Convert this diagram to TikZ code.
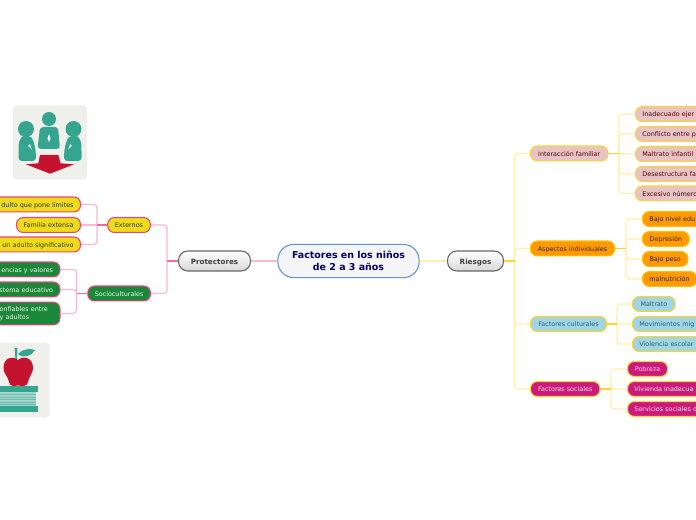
\documentclass[tikz,border=0pt]{standalone}
\usepackage{fontspec}
\setmainfont{DejaVu Sans}
\usepackage{xcolor}
\usetikzlibrary{calc, positioning}
\definecolor{pinkdark}{HTML}{E96F9C}
\definecolor{pinklight}{HTML}{F8B9D0}
\definecolor{pinkborder}{HTML}{E8457A}
\definecolor{golddark}{HTML}{FFD233}
\definecolor{goldlight}{HTML}{FFEFA8}
\definecolor{iconbg}{HTML}{EFEFEB}
\definecolor{iconteal}{HTML}{35A58F}
\definecolor{iconred}{HTML}{C5122F}
\definecolor{rosefill}{HTML}{E6C4C6}
\definecolor{yellowfill}{HTML}{EEDC18}
\definecolor{greenfill}{HTML}{1A873B}
\definecolor{bluefill}{HTML}{A2D5E4}
\definecolor{bluetext}{HTML}{2F5F70}
\definecolor{magentafill}{HTML}{CB1A7A}
\definecolor{orangefill}{HTML}{FF9A00}

\begin{document}
\begin{tikzpicture}[
    x=0.75pt, y=-0.75pt,
    pill/.style={rectangle, rounded corners=5pt, line width=0.8pt, minimum height=11.2pt, inner xsep=5.2pt, inner ysep=1pt, text height=4.6pt, text depth=0.5pt, font=\fontsize{4.8pt}{6.2pt}\selectfont},
    yellowbox/.style={pill, draw=pinkborder, fill=yellowfill, text=black!80},
    greenbox/.style={pill, draw=pinkborder, fill=greenfill, text=white!90!green},
    rosebox/.style={pill, draw=golddark, fill=rosefill, text=red!35!black},
    orangebox/.style={pill, draw=orange!50!yellow, fill=orangefill, text=black!75!orange},
    bluebox/.style={pill, draw=golddark, fill=bluefill, text=bluetext},
    magentabox/.style={pill, draw=golddark, fill=magentafill, text=white!90!magenta},
    mainbox/.style={rectangle, rounded corners=7pt, draw=black!60, thick, top color=white, bottom color=black!15, minimum width=54pt, minimum height=15pt, inner sep=1pt, text height=5.6pt, text depth=0.3pt, text=black!75, font=\fontsize{5.4pt}{6.5pt}\selectfont\bfseries},
    titlebox/.style={rectangle, rounded corners=12pt, draw=cyan!50!blue!65, thick, fill=red!5!black!4, minimum width=106pt, minimum height=25pt, align=center, inner sep=1pt, text=blue!40!black, font=\fontsize{7.1pt}{8.7pt}\selectfont\bfseries},
    pinkline/.style={draw=pinklight, line width=0.9pt, rounded corners=2.5pt},
    pinktrunk/.style={draw=pinkdark, line width=1.1pt},
    goldline/.style={draw=goldlight, line width=0.9pt, rounded corners=2.5pt},
    goldtrunk/.style={draw=golddark, line width=1.1pt}
]
    \useasboundingbox (0,0) rectangle (696,520);
    \clip (0,0) rectangle (696,520);

    % Center row
    \node (title) at (348.5,261) [titlebox] {Factores en los niños\\de 2 a 3 años};
    \node (protectores) at (214.5,261) [mainbox] {Protectores};
    \node (riesgos) at (475.5,261) [mainbox, minimum width=42pt] {Riesgos};

    % Left side, second level
    \node (externos) at (129,225) [yellowbox, minimum width=32pt] {Externos};
    \node (socio) at (151,293.5) [greenbox, anchor=east, minimum width=47pt] {Socioculturales};

    % Left side, leaves (they run off the page)
    \node (limites) at (81,204.5) [yellowbox, anchor=east, text width=62pt, align=right] {dulto que pone límites};
    \node (familia) at (81,225) [yellowbox, anchor=east, minimum width=48pt] {Familia extensa};
    \node (significativo) at (81,244.5) [yellowbox, anchor=east, text width=62pt, align=right] {un adulto significativo};
    \node (valores) at (60.5,269.5) [greenbox, anchor=east, text width=46pt, align=right] {encias y valores};
    \node (educativo) at (60.5,289.5) [greenbox, anchor=east, text width=46pt, align=right] {stema educativo};
    \node (confiables) at (60.5,313.5) [greenbox, anchor=east, minimum height=17pt, text height=, text depth=, text width=40pt, align=left] {onfiables entre\\y adultos};

    % Right side, second level
    \node (interaccion) at (530,153.5) [rosebox, anchor=west, minimum width=58pt] {Interacción familiar};
    \node (aspectos) at (530,248.5) [orangebox, anchor=west, minimum width=63pt] {Aspectos individuales};
    \node (culturales) at (530,324) [bluebox, anchor=west, minimum width=57pt] {Factores culturales};
    \node (sociales) at (530,389) [magentabox, anchor=west, minimum width=52pt] {Factores sociales};

    % Right side, leaves
    \node (inadecuado) at (635,114) [rosebox, anchor=west, text width=65pt, align=left] {Inadecuado ejer};
    \node (conflicto) at (635,134) [rosebox, anchor=west, text width=65pt, align=left] {Conflicto entre p};
    \node (maltratoinf) at (635,154) [rosebox, anchor=west, text width=65pt, align=left] {Maltrato infantil};
    \node (desestructura) at (635,174) [rosebox, anchor=west, text width=65pt, align=left] {Desestructura fa};
    \node (excesivo) at (635,193.5) [rosebox, anchor=west, text width=65pt, align=left] {Excesivo número};

    \node (nivel) at (642,219) [orangebox, anchor=west, text width=65pt, align=left] {Bajo nivel edu};
    \node (depresion) at (642,239) [orangebox, anchor=west, minimum width=35pt] {Depresión};
    \node (peso) at (642,259) [orangebox, anchor=west, minimum width=34pt] {Bajo peso};
    \node (malnutricion) at (642,279) [orangebox, anchor=west, minimum width=40.5pt] {malnutrición};

    \node (maltrato) at (632,304) [bluebox, anchor=west, minimum width=32pt] {Maltrato};
    \node (movimientos) at (632,324) [bluebox, anchor=west, text width=65pt, align=left] {Movimientos mig};
    \node (violencia) at (632,344) [bluebox, anchor=west, text width=65pt, align=left] {Violencia escolar};

    \node (pobreza) at (627,369) [magentabox, anchor=west, minimum width=30pt] {Pobreza};
    \node (vivienda) at (627,389) [magentabox, anchor=west, text width=65pt, align=left] {Vivienda inadecua};
    \node (servicios) at (627,409) [magentabox, anchor=west, text width=65pt, align=left] {Servicios sociales d};

    % Junctions
    \coordinate (jprot) at (167,261);
    \coordinate (jext) at (97,225);
    \coordinate (jsocio) at (76.5,293.5);
    \coordinate (jries) at (514.5,261);
    \coordinate (jinter) at (619,153.5);
    \coordinate (jasp) at (626,248.5);
    \coordinate (jcult) at (617,324);
    \coordinate (jsoc) at (611,389);

    % Left connectors
    \draw [pinkline] (title.west) -- (protectores.east);
    \draw [pinkline] (jprot) |- (externos.east);
    \draw [pinkline] (jprot) |- (socio.east);
    \draw [pinkline] (jext) |- (limites.east);
    \draw [pinkline] (jext) -- (familia.east);
    \draw [pinkline] (jext) |- (significativo.east);
    \draw [pinkline] (jsocio) |- (valores.east);
    \draw [pinkline] (jsocio) |- (educativo.east);
    \draw [pinkline] (jsocio) |- (confiables.east);
    \draw [pinktrunk] (protectores.west) -- (jprot);
    \draw [pinktrunk] (externos.west) -- (jext);
    \draw [pinktrunk] (socio.west) -- (jsocio);

    % Right connectors
    \draw [goldline] (title.east) -- (riesgos.west);
    \draw [goldline] (jries) |- (interaccion.west);
    \draw [goldline] (jries) |- (aspectos.west);
    \draw [goldline] (jries) |- (culturales.west);
    \draw [goldline] (jries) |- (sociales.west);
    \foreach \leaf in {inadecuado, conflicto, maltratoinf, desestructura, excesivo}
        \draw [goldline] (jinter) |- (\leaf.west);
    \foreach \leaf in {nivel, depresion, peso, malnutricion}
        \draw [goldline] (jasp) |- (\leaf.west);
    \foreach \leaf in {maltrato, movimientos, violencia}
        \draw [goldline] (jcult) |- (\leaf.west);
    \foreach \leaf in {pobreza, vivienda, servicios}
        \draw [goldline] (jsoc) |- (\leaf.west);
    \draw [goldtrunk] (riesgos.east) -- (jries);
    \draw [goldtrunk] (interaccion.east) -- (jinter);
    \draw [goldtrunk] (aspectos.east) -- (jasp);
    \draw [goldtrunk] (culturales.east) -- (jcult);
    \draw [goldtrunk] (sociales.east) -- (jsoc);

    % People icon
    \fill [iconbg, rounded corners=2.5pt] (13,105.5) rectangle (87,179.5);
    \fill [iconteal] (49,119) circle (7);
    \fill [iconteal] (26,129) circle (8);
    \fill [iconteal] (73.5,129) circle (8);
    \fill [iconteal, rounded corners=2.5pt] (40,127) -- (58,127) -- (60,149) -- (37.5,149) -- cycle;
    \fill [iconteal, rounded corners=2.5pt] (18.5,161) -- (18.5,148) .. controls (19,138) and (24,135) .. (28,136) .. controls (33,138) and (36,148) .. (36,161) -- cycle;
    \fill [iconteal, rounded corners=2.5pt] (81.5,161) -- (81.5,148) .. controls (81,138) and (76,135) .. (72,136) .. controls (67,138) and (64,148) .. (64,161) -- cycle;
    \fill [white] (49,134) -- (50.5,138.5) -- (49,142) -- (47.5,138.5) -- cycle;
    \fill [white!70!iconteal] (30,144) -- (32,150) -- (28,146) -- cycle;
    \fill [white!70!iconteal] (70,144) -- (68,150) -- (72,146) -- cycle;
    \fill [iconred] (40,155) -- (58.3,155) -- (60.7,163.3) -- (74,164.3) -- (50,173.7) -- (26,164.3) -- (38.3,163.3) -- cycle;

    % Apple and books icon
    \fill [iconbg, rounded corners=2.5pt] (-10,342.7) rectangle (49.3,417.3);
    \fill [iconteal] (14.5,348) -- (17.5,348) -- (17,359) -- (15.5,359) -- cycle;
    \fill [iconteal] (18,354) .. controls (22,349) and (30,348) .. (35,350) .. controls (32,356) and (23,359) .. (18,354) -- cycle;
    \fill [iconred] (18,360) .. controls (24,355) and (33,358) .. (33,368) .. controls (33,374) and (29,376) .. (28,382) .. controls (27,387) and (22,386) .. (18,385.5) .. controls (14,386) and (10,387) .. (9,382) .. controls (8,376) and (3.5,374) .. (3.5,368) .. controls (3.5,358) and (12,355) .. (18,360) -- cycle;
    \fill [iconteal] (-10,386) rectangle (38.3,392.3);
    \fill [iconteal!45!white] (-10,392.3) rectangle (36,406);
    \foreach \ystripe in {394.5,397,399.5,402,404.5}
        \draw [iconteal!75!white, line width=0.4pt] (-10,\ystripe) -- (36,\ystripe);
    \fill [iconteal] (-10,406) rectangle (38.3,411.7);

\end{tikzpicture}
\end{document}
